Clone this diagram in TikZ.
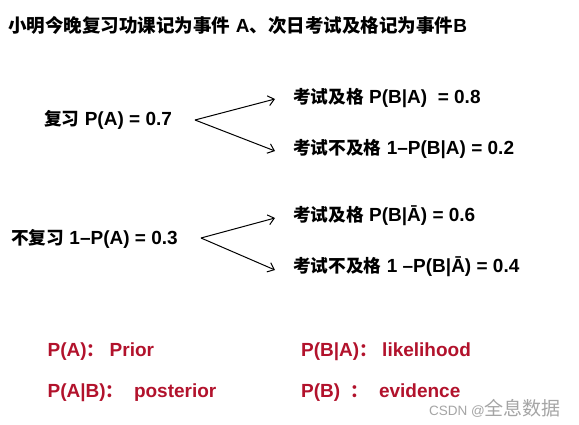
\documentclass[tikz,border=0pt]{standalone}
\usepackage{fontspec}
\setmainfont{Liberation Sans}
\newfontfamily\cjk[Scale=0.93]{Noto Sans CJK SC}
\newfontfamily\cjkt[Scale=0.975]{Noto Sans CJK SC}
\newfontfamily\cjkw{Noto Sans CJK SC}
\usetikzlibrary{arrows.meta}
\definecolor{redtxt}{RGB}{178,18,44}
\definecolor{wm}{RGB}{165,165,165}
\newcommand{\zh}[1]{{\cjk #1}}
\newcommand{\zht}[1]{{\cjkt #1}}
\begin{document}
\begin{tikzpicture}[x=1pt,y=-1pt,
  txt/.style={anchor=west,inner sep=0pt,font=\fontsize{19}{21}\selectfont\bfseries},
  rtxt/.style={txt,text=redtxt},
  arr/.style={-{Straight Barb[length=6pt,width=10pt]},line width=1pt}]
\fill[white] (0,0) rectangle (579,425);
\useasboundingbox (0,0) rectangle (579,425);
\node[txt] (title) at (8,25) {\zht{小明今晚复习功课记为事件} A\zht{、次日考试及格记为事件}B};
% branch 1
\node[txt] (a) at (44,120) {\zh{复习} P(A) = 0.7};
\node[txt] (a1) at (293,98) {\zh{考试及格} P(B|A)\ \ = 0.8};
\node[txt] (a2) at (293,149) {\zh{考试不及格} 1–P(B|A) = 0.2};
\coordinate (va) at (195,120);
\draw[arr] (va) -- ([xshift=-18pt,yshift=-1pt]a1.west);
\draw[arr] (va) -- ([xshift=-18pt,yshift=-2pt]a2.west);
% branch 2
\node[txt] (b) at (11,239) {\zh{不复习} 1–P(A) = 0.3};
\node[txt] (b1) at (293,216) {\zh{考试及格} P(B|Ā) = 0.6};
\node[txt] (b2) at (293,267) {\zh{考试不及格} 1 –P(B|Ā) = 0.4};
\coordinate (vb) at (201,238);
\draw[arr] (vb) -- ([xshift=-18pt,yshift=-2pt]b1.west);
\draw[arr] (vb) -- ([xshift=-18pt,yshift=-3pt]b2.west);
% red legend
\node[rtxt] (r1) at (47.5,352) {P(A)\zh{：} Prior};
\node[rtxt] (r2) at (301,352) {P(B|A)\zh{：} likelihood};
\node[rtxt] (r3) at (47.5,393) {P(A|B)\zh{：}\ \ posterior};
\node[rtxt] (r4) at (301,393) {P(B)\ \ \zh{：}\ \ evidence};
% watermark
\node[anchor=west,inner sep=0pt,text=wm,font=\fontsize{13.5}{16}\selectfont] (w) at (429,408) {CSDN @{\cjkw\fontsize{19}{20}\selectfont 全息数据}};
\end{tikzpicture}
\end{document}
